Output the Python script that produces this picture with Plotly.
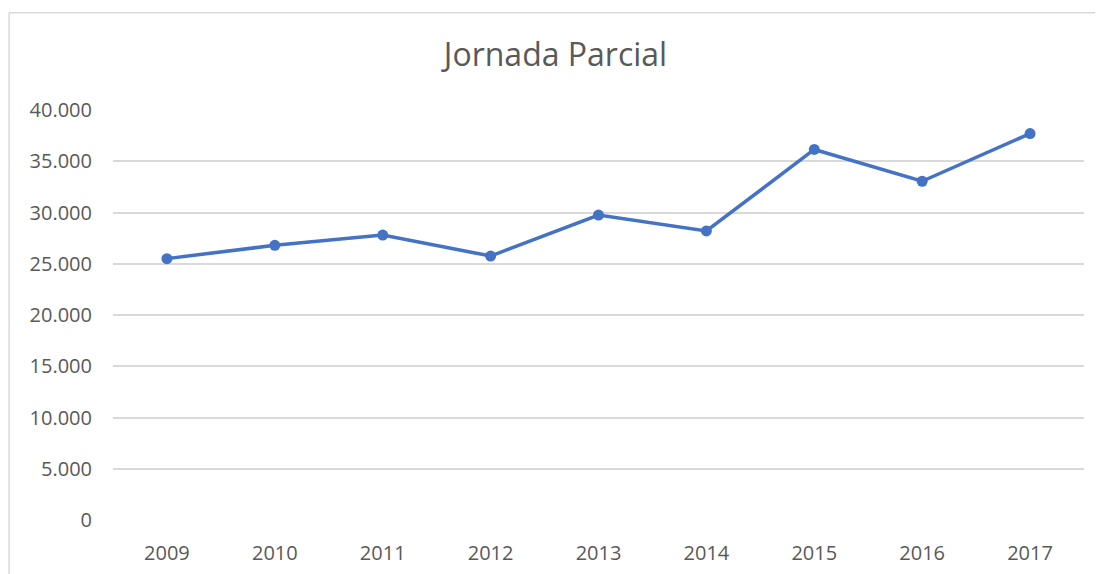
import plotly.graph_objects as go

years = ["2009", "2010", "2011", "2012", "2013", "2014", "2015", "2016", "2017"]
values = [25500, 26800, 27800, 25750, 29750, 28200, 36150, 33050, 37700]
y_ticks = [0, 5000, 10000, 15000, 20000, 25000, 30000, 35000, 40000]
title_text = "Jornada Parcial"

fig = go.Figure()
fig.add_trace(go.Scatter(
    x=years, y=values, mode="lines+markers",
    line=dict(color="#4472c4", width=3.5),
    marker=dict(color="#4472c4", size=11),
    showlegend=False, hoverinfo="x+y",
))

# page body has an 8px default margin, so the figure is sized to compensate
fig.update_layout(
    width=1095, height=566,
    margin=dict(l=105, r=19, t=102, b=54),
    paper_bgcolor="white", plot_bgcolor="white",
    separators=",.",
    font=dict(family="Open Sans, Liberation Sans, Arial, sans-serif", color="#595959", size=20),
    title=dict(text=title_text, x=0.5, xanchor="center", y=0.917, yanchor="middle",
               font=dict(size=32, color="#595959")),
    xaxis=dict(type="category", range=[-0.5, 8.5], showgrid=False, showline=False,
               automargin=False, ticks="", tickfont=dict(size=20, color="#595959"),
               ticklabelstandoff=19),
    yaxis=dict(range=[0, 40000], tickvals=y_ticks, tickformat=",", showgrid=True,
               gridcolor="#d9d9d9", gridwidth=1.5, zeroline=False, showline=False,
               automargin=False, ticks="", tickfont=dict(size=20, color="#595959"),
               ticklabelstandoff=20),
    shapes=[
        dict(type="line", xref="paper", yref="paper", x0=-0.107, x1=1.05, y0=1.237, y1=1.237,
             line=dict(color="#d9d9d9", width=1.5)),
        dict(type="line", xref="paper", yref="paper", x0=-0.107, x1=-0.107, y0=-0.2, y1=1.237,
             line=dict(color="#d9d9d9", width=1.5)),
    ],
)

fig.write_html("out.html")
